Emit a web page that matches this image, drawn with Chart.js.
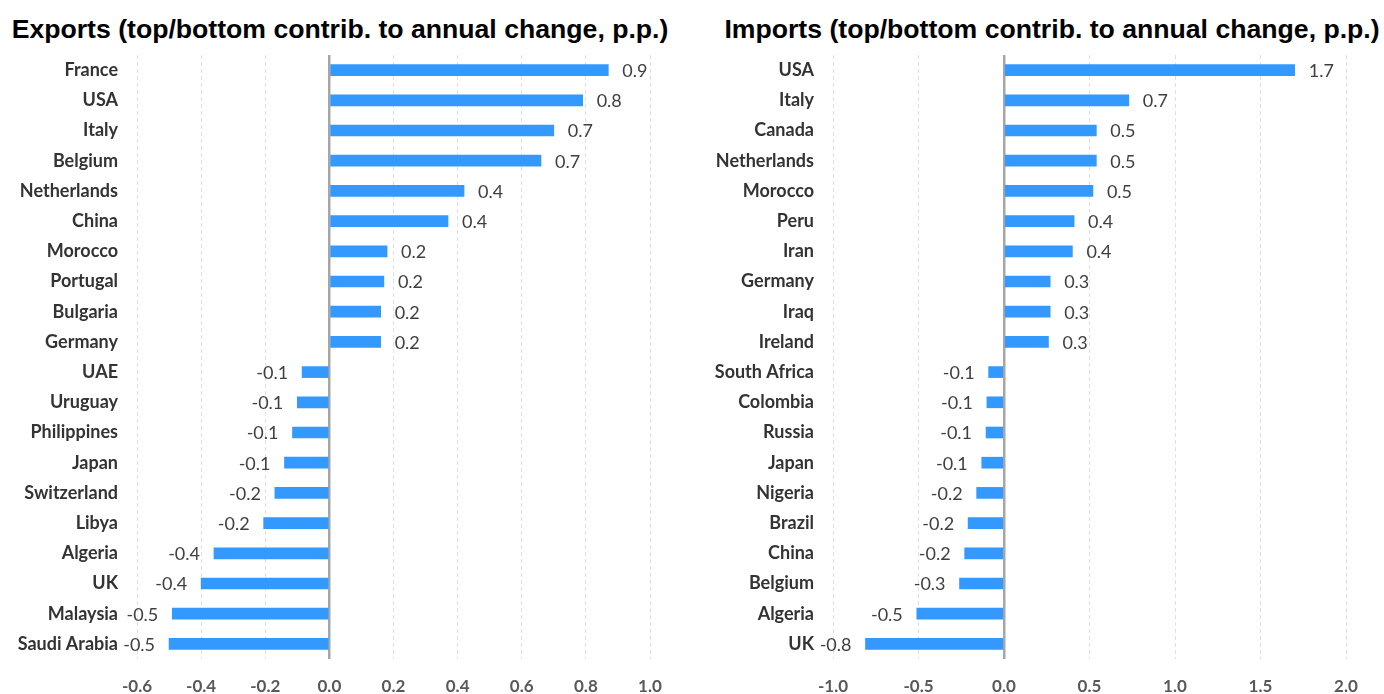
<!DOCTYPE html>
<html>
<head>
<meta charset="utf-8">
<script src="https://cdn.jsdelivr.net/npm/chart.js@4.4.1/dist/chart.umd.min.js"></script>
<style>
  body { margin: 0; background: #fff; width: 1384px; height: 694px; overflow: hidden; }
  .panel { position: absolute; top: 0; height: 694px; }
  .title {
    position: absolute; top: 15px; white-space: nowrap;
    font: bold 25px "Liberation Sans", Arial, sans-serif; color: #000;
    transform: translateX(-50%) scaleX(1.065);
  }
</style>
</head>
<body>
<div class="title" style="left:340px">Exports (top/bottom contrib. to annual change, p.p.)</div>
<div class="title" style="left:1052px">Imports (top/bottom contrib. to annual change, p.p.)</div>
<div class="panel" style="left:0;width:690px"><canvas id="exportsChart"></canvas></div>
<div class="panel" style="left:690px;width:694px"><canvas id="importsChart"></canvas></div>
<script>
const exportCountries = ['France', 'USA', 'Italy', 'Belgium', 'Netherlands', 'China', 'Morocco', 'Portugal',
  'Bulgaria', 'Germany', 'UAE', 'Uruguay', 'Philippines', 'Japan', 'Switzerland', 'Libya', 'Algeria', 'UK',
  'Malaysia', 'Saudi Arabia'];
const exportValues = [0.87, 0.79, 0.70, 0.66, 0.42, 0.37, 0.18, 0.17, 0.16, 0.16, -0.085, -0.10, -0.115,
  -0.14, -0.17, -0.205, -0.36, -0.40, -0.49, -0.50];
const exportTicks = [-0.6, 1.0, 0.2];   // min, max, step

const importCountries = ['USA', 'Italy', 'Canada', 'Netherlands', 'Morocco', 'Peru', 'Iran', 'Germany', 'Iraq',
  'Ireland', 'South Africa', 'Colombia', 'Russia', 'Japan', 'Nigeria', 'Brazil', 'China', 'Belgium', 'Algeria', 'UK'];
const importValues = [1.70, 0.73, 0.54, 0.54, 0.52, 0.41, 0.40, 0.27, 0.27, 0.26, -0.09, -0.10, -0.105,
  -0.13, -0.16, -0.21, -0.23, -0.26, -0.51, -0.81];
const importTicks = [-1.0, 2.0, 0.5];

const isZero = v => Math.abs(v) < 1e-9;

// value labels next to the bar ends
const valueLabels = {
  id: 'valueLabels',
  afterDatasetsDraw(chart) {
    const { ctx } = chart;
    const values = chart.data.datasets[0].data;
    ctx.save();
    ctx.font = '18px Lato, sans-serif';
    ctx.fillStyle = '#404040';
    ctx.textBaseline = 'middle';
    chart.getDatasetMeta(0).data.forEach((bar, i) => {
      const v = values[i];
      const text = v.toFixed(1);
      if (v >= 0) {
        ctx.textAlign = 'left';
        ctx.fillText(text, bar.x + 14, bar.y + 1);
      } else {
        ctx.textAlign = 'right';
        ctx.fillText(text, bar.x - 14, bar.y + 1);
      }
    });
    ctx.restore();
  }
};

function makeChart(id, labels, values, ticks, axisWidth, rightPad) {
  return new Chart(document.getElementById(id), {
    type: 'bar',
    data: {
      labels: labels,
      datasets: [{
        data: values,
        backgroundColor: '#3399ff',
        borderWidth: 0,
        barThickness: 11,
      }]
    },
    options: {
      indexAxis: 'y',
      responsive: true,
      maintainAspectRatio: false,
      animation: false,
      layout: { padding: { top: 55, right: rightPad, left: 0, bottom: 0 } },
      plugins: {
        legend: { display: false },
        tooltip: { enabled: false },
      },
      scales: {
        x: {
          min: ticks[0],
          max: ticks[1],
          afterFit: (scale) => { scale.height = 35; },
          grid: {
            drawTicks: false,
            color: (c) => isZero(c.tick.value) ? '#a6a6a6' : '#e0e0e0',
            lineWidth: (c) => isZero(c.tick.value) ? 2.5 : 1,
          },
          border: {
            display: false,
            dash: (c) => isZero(c.tick.value) ? [] : [4, 3],
          },
          ticks: {
            stepSize: ticks[2],
            padding: 17,
            color: '#595959',
            font: { family: 'Lato', size: 17, weight: 'bold' },
            callback: (v) => Number(v).toFixed(1),
          }
        },
        y: {
          afterFit: (scale) => { scale.width = axisWidth; },
          grid: { display: false, drawTicks: false },
          border: { display: false },
          ticks: {
            padding: 19,
            color: '#333333',
            font: { family: 'Lato', size: 18, weight: 'bold' },
          }
        }
      }
    },
    plugins: [valueLabels]
  });
}

makeChart('exportsChart', exportCountries, exportValues, exportTicks, 137, 40);
makeChart('importsChart', importCountries, importValues, importTicks, 143, 38);
</script>
</body>
</html>
